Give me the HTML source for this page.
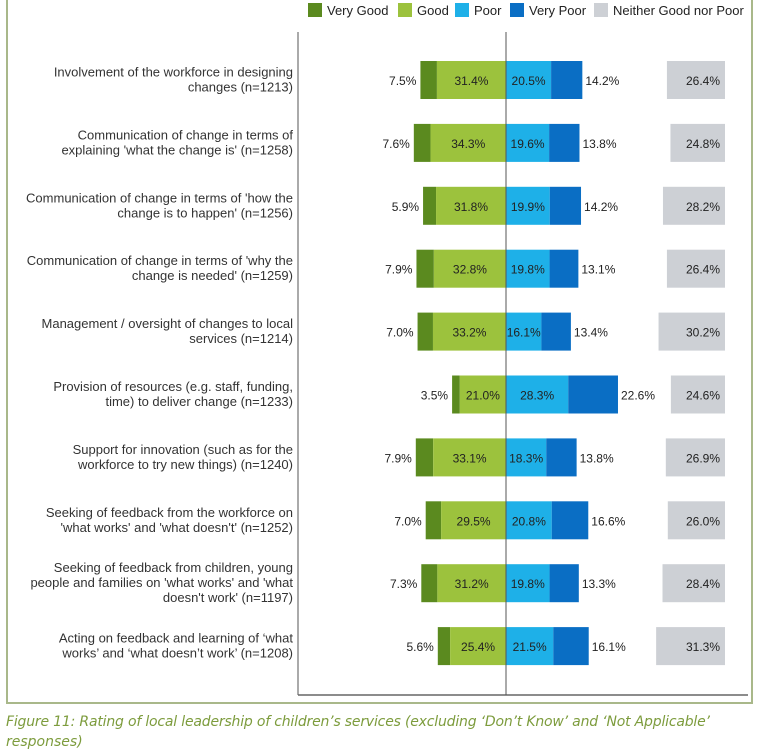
<!DOCTYPE html>
<html><head><meta charset="utf-8"><style>
body{margin:0;background:#fff;}
svg{display:block;font-family:"Liberation Sans",sans-serif;}
</style></head><body>
<svg id="chart" width="757" height="751">
<rect x="7" y="-5" width="745" height="708" fill="none" stroke="#a9b88a" stroke-width="2"/>
<g id="legend"></g>
<g id="bars"></g>
<line x1="298" y1="32" x2="298" y2="695" stroke="#555" stroke-width="1"/>
<line x1="298" y1="695" x2="748" y2="695" stroke="#666" stroke-width="1.5"/>
<line x1="506" y1="32" x2="506" y2="695" stroke="#555" stroke-width="1"/>
<text x="6" y="726" font-size="14" font-style="italic" fill="#7d9c3d" font-family="'DejaVu Sans',sans-serif" textLength="704">Figure 11: Rating of local leadership of children’s services (excluding ‘Don’t Know’ and ‘Not Applicable’</text>
<text x="6" y="746" font-size="14" font-style="italic" fill="#7d9c3d" font-family="'DejaVu Sans',sans-serif">responses)</text>
</svg>
<script>
const categories=[
["Involvement of the workforce in designing","changes (n=1213)"],
["Communication of change in terms of","explaining 'what the change is' (n=1258)"],
["Communication of change in terms of 'how the","change is to happen' (n=1256)"],
["Communication of change in terms of 'why the","change is needed' (n=1259)"],
["Management / oversight of changes to local","services (n=1214)"],
["Provision of resources (e.g. staff, funding,","time) to deliver change (n=1233)"],
["Support for innovation (such as for the","workforce to try new things) (n=1240)"],
["Seeking of feedback from the workforce on","'what works' and 'what doesn't' (n=1252)"],
["Seeking of feedback from children, young","people and families on 'what works' and 'what","doesn't work' (n=1197)"],
["Acting on feedback and learning of ‘what","works’ and ‘what doesn’t work’ (n=1208)"]];
const veryGood=[7.5,7.6,5.9,7.9,7.0,3.5,7.9,7.0,7.3,5.6];
const good=[31.4,34.3,31.8,32.8,33.2,21.0,33.1,29.5,31.2,25.4];
const poor=[20.5,19.6,19.9,19.8,16.1,28.3,18.3,20.8,19.8,21.5];
const veryPoor=[14.2,13.8,14.2,13.1,13.4,22.6,13.8,16.6,13.3,16.1];
const neither=[26.4,24.8,28.2,26.4,30.2,24.6,26.9,26.0,28.4,31.3];
const legendLabels=["Very Good","Good","Poor","Very Poor","Neither Good nor Poor"];
const colors=["#5b8a1f","#9cc23d","#1eb0e8","#0a6ec4","#cdd0d5"];
const NS="http://www.w3.org/2000/svg";
const cx=506, k=2.2, nRight=725, y0=80, step=62.9, bh=38;
const X=v=>v*k, Y=i=>y0+i*step;
function el(t,a,p){const e=document.createElementNS(NS,t);for(const q in a)e.setAttribute(q,a[q]);p.appendChild(e);return e;}
const bars=document.getElementById('bars');
const fmt=v=>v.toFixed(1)+'%';
categories.forEach((c,i)=>{
 const y=Y(i);
 const lab=el('text',{x:293,'font-size':13,fill:'#333','text-anchor':'end'},bars);
 
 
 const h=15, start=y-(c.length-1)*h/2+4;
 c.forEach((l,j)=>{const t=el('tspan',{x:293,y:start+j*h},lab);t.textContent=l;});
 const gx=cx-X(good[i]), vgx=gx-X(veryGood[i]);
 const px=cx+X(poor[i]), vpx=px+X(veryPoor[i]);
 const segs=[[vgx,X(veryGood[i]),0,'bar-very-good'],[gx,X(good[i]),1,'bar-good'],[cx,X(poor[i]),2,'bar-poor'],[px,X(veryPoor[i]),3,'bar-very-poor'],[nRight-X(neither[i]),X(neither[i]),4,'bar-neither']];
 segs.forEach(s=>{const r=el('rect',{x:s[0],y:y-bh/2,width:s[1],height:bh,fill:colors[s[2]]},bars);
  
  });
 const labs=[[vgx-4,'end',veryGood[i]],[gx+X(good[i])/2,'middle',good[i]],[cx+X(poor[i])/2,'middle',poor[i]],[vpx+3,'start',veryPoor[i]],[nRight-5,'end',neither[i]]];
 labs.forEach(L=>{const t=el('text',{x:L[0],y:y+5,'font-size':12,fill:'#222','text-anchor':L[1]},bars);t.textContent=fmt(L[2]);
  
  });
});
const lg=document.getElementById('legend');
const lx=[308,398,455,510,594];
legendLabels.forEach((n,i)=>{
 const r=el('rect',{x:lx[i],y:3,width:14,height:14,fill:colors[i]},lg);
 
 
 const t=el('text',{x:lx[i]+19,y:15,'font-size':13,fill:'#222'},lg);t.textContent=n;
 
 
});
</script>
</body></html>
